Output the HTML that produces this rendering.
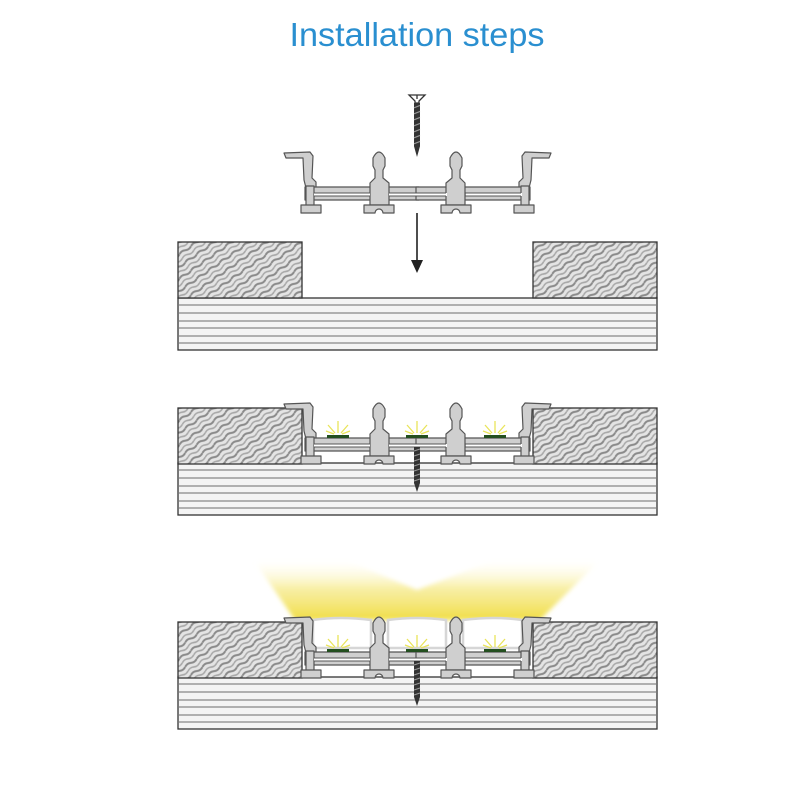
<!DOCTYPE html>
<html><head><meta charset="utf-8"><style>
html,body{margin:0;padding:0;background:#fff;width:800px;height:800px;overflow:hidden}
</style></head><body>
<svg width="800" height="800" viewBox="0 0 800 800" xmlns="http://www.w3.org/2000/svg">
<defs>
<pattern id="wood" width="14" height="10" patternUnits="userSpaceOnUse" patternTransform="rotate(-35)">
<rect width="14" height="10" fill="#e4e4e4"/>
<path d="M0,3 q3.5,-2 7,0 t7,0" stroke="#8a8a8a" stroke-width="2" fill="none"/>
<path d="M0,8 q3.5,-2 7,0 t7,0" stroke="#a8a8a8" stroke-width="1.6" fill="none"/>
</pattern>
<linearGradient id="glow" x1="0" y1="1" x2="0" y2="0">
<stop offset="0" stop-color="#f1de45" stop-opacity="1"/>
<stop offset="0.55" stop-color="#f6ea8a" stop-opacity="0.75"/>
<stop offset="1" stop-color="#fffbe0" stop-opacity="0.05"/>
</linearGradient>
<filter id="bl"><feGaussianBlur stdDeviation="2"/></filter>
<g id="base">
<rect x="178" y="0" width="479" height="52" fill="#f4f4f4" stroke="#333" stroke-width="1.3"/>
<g stroke="#9a9a9a" stroke-width="1.6">
<line x1="179" y1="7" x2="656" y2="7"/><line x1="179" y1="15" x2="656" y2="15"/>
<line x1="179" y1="23" x2="656" y2="23"/><line x1="179" y1="30" x2="656" y2="30"/>
<line x1="179" y1="38" x2="656" y2="38"/><line x1="179" y1="45" x2="656" y2="45"/>
</g>
</g>
<g id="blocks">
<rect x="178" y="0" width="124" height="56" fill="url(#wood)" stroke="#333" stroke-width="1.3"/>
<rect x="533" y="0" width="124" height="56" fill="url(#wood)" stroke="#333" stroke-width="1.3"/>
</g>
<g id="half" fill="#cfcfcf" stroke="#555" stroke-width="1.2" stroke-linejoin="round">
<path d="M284,153 L310,152 L313,156 L312,178 L316,182 L316,188 L306,188 L304,180 L303,158 L286,158 Z"/>
<rect x="305" y="187" width="114" height="13"/>
<rect x="306" y="186" width="8" height="20"/>
<rect x="301" y="205" width="20" height="8"/>
<path d="M373,158 Q379,146 385,158 L385,166 L383,170 L383,178 L389,183 L389,205 L370,205 L370,183 L375,178 L375,170 L373,166 Z"/>
<path d="M364,205 L394,205 L394,213 L383,213 A4,4 0 0 0 375,213 L364,213 Z"/>
</g>
<g id="halfline" stroke="#555" stroke-width="1" fill="none">
<line x1="314" y1="193" x2="370" y2="193"/><line x1="389" y1="193" x2="418" y2="193"/>
<line x1="314" y1="196" x2="370" y2="196"/><line x1="389" y1="196" x2="418" y2="196"/>
</g>
<g id="profile">
<use href="#half"/><use href="#half" transform="translate(835,0) scale(-1,1)"/>
<rect x="314" y="193" width="56" height="3" fill="#fff"/><rect x="389" y="193" width="58" height="3" fill="#fff"/>
<rect x="466" y="193" width="56" height="3" fill="#fff"/>
<use href="#halfline"/><use href="#halfline" transform="translate(835,0) scale(-1,1)"/>
</g>
<g id="shaft">
<path d="M-3,0 L3,0 L3,36 L0,45 L-3,36 Z" fill="#333"/>
<g stroke="#999" stroke-width="1"><line x1="-3" y1="4" x2="3" y2="2"/><line x1="-3" y1="9" x2="3" y2="7"/><line x1="-3" y1="14" x2="3" y2="12"/><line x1="-3" y1="19" x2="3" y2="17"/><line x1="-3" y1="24" x2="3" y2="22"/><line x1="-3" y1="29" x2="3" y2="27"/><line x1="-3" y1="34" x2="3" y2="32"/></g>
</g>
<g id="screw">
<path d="M-8,0 L8,0 L2,6 L2,8 L-2,8 L-2,6 Z" fill="#fff" stroke="#333" stroke-width="1.3"/>
<line x1="0" y1="0" x2="0" y2="4" stroke="#333" stroke-width="1.3"/>
<use href="#shaft" transform="translate(0,8) scale(1,1.2)"/>
</g>
<g id="led">
<rect x="-11" y="0" width="22" height="3" fill="#234f1f"/>
<g stroke="#e9e45a" stroke-width="1.3"><line x1="0" y1="-2" x2="0" y2="-14"/><line x1="-3" y1="-2" x2="-10" y2="-10"/><line x1="3" y1="-2" x2="10" y2="-10"/><line x1="-4" y1="-1" x2="-12" y2="-4"/><line x1="4" y1="-1" x2="12" y2="-4"/></g>
</g>
</defs>

<text x="417" y="46" text-anchor="middle" font-family="Liberation Sans, sans-serif" font-size="33" fill="#2a8fd0" textLength="255" lengthAdjust="spacingAndGlyphs">Installation steps</text>

<!-- step 1 -->
<use href="#screw" transform="translate(417,95)"/>
<use href="#profile"/>
<line x1="417" y1="213" x2="417" y2="264" stroke="#222" stroke-width="1.6"/>
<path d="M411,260 L423,260 L417,273 Z" fill="#222"/>
<use href="#base" transform="translate(0,298)"/>
<use href="#blocks" transform="translate(0,242)"/>

<!-- step 2 -->
<use href="#base" transform="translate(0,463)"/>
<use href="#blocks" transform="translate(0,408)"/>
<use href="#profile" transform="translate(0,251)"/>
<use href="#shaft" transform="translate(417,447)"/>
<use href="#led" transform="translate(338,435)"/>
<use href="#led" transform="translate(417,435)"/>
<use href="#led" transform="translate(495,435)"/>

<!-- step 3 -->
<polygon points="255,562 350,562 417,590 490,562 598,562 540,620 295,620" fill="url(#glow)" filter="url(#bl)"/>
<use href="#base" transform="translate(0,677)"/>
<use href="#blocks" transform="translate(0,622)"/>
<g fill="#fff" stroke="#d6d6d6" stroke-width="2.5">
<path d="M313,620 Q340,616 371,620 L371,648 L313,648 Z"/>
<path d="M388,620 Q417,616 446,620 L446,648 L388,648 Z"/>
<path d="M463,620 Q495,616 522,620 L522,648 L463,648 Z"/>
</g>
<use href="#profile" transform="translate(0,465)"/>
<use href="#shaft" transform="translate(417,661)"/>
<use href="#led" transform="translate(338,649)"/>
<use href="#led" transform="translate(417,649)"/>
<use href="#led" transform="translate(495,649)"/>
</svg>
</body></html>
